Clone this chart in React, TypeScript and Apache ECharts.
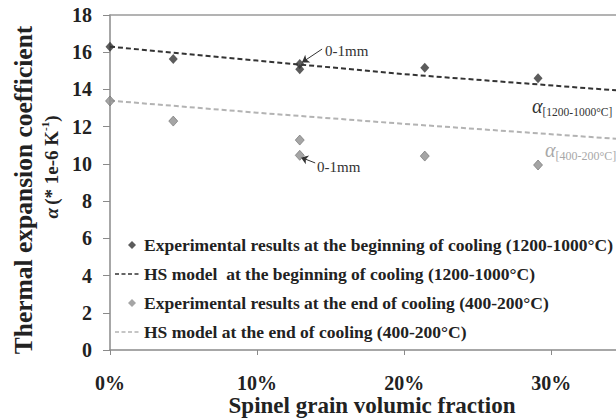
import React, { useEffect, useRef } from "react";
import * as echarts from "echarts";

const expBeginX = [0, 4.3, 12.9, 12.9, 21.4, 29.1];
const expBeginY = [16.3, 15.64, 15.37, 15.08, 15.17, 14.6];
const expEndX = [0, 4.3, 12.9, 12.9, 21.4, 29.1];
const expEndY = [13.38, 12.3, 11.28, 10.46, 10.42, 9.94];
const modelBeginX = [0, 10, 20, 34.4];
const modelBeginY = [16.3, 15.55, 14.82, 13.95];
const modelEndX = [0, 10, 20, 34.4];
const modelEndY = [13.4, 12.75, 12.15, 11.35];
const seriesNames = [
  "Experimental results at the beginning of cooling (1200-1000°C)",
  "HS model  at the beginning of cooling (1200-1000°C)",
  "Experimental results at the end of cooling (400-200°C)",
  "HS model at the end of cooling (400-200°C)",
];
const xTicks = [0, 10, 20, 30];

const SERIF = "'Liberation Serif', 'Times New Roman', serif";
const pair = (xs: number[], ys: number[]) => xs.map((x, i) => [x, ys[i]]);

const DIAMOND_ICON =
  "path://M17,0 L21,4 L17,8 L13,4 Z M0,4 L0.01,4 Z M24,4 L23.99,4 Z";
const DASH_ICON =
  "path://M0,3.3 L4,3.3 L4,4.7 L0,4.7 Z M6.5,3.3 L10.5,3.3 L10.5,4.7 L6.5,4.7 Z M13,3.3 L17,3.3 L17,4.7 L13,4.7 Z M19.5,3.3 L23.5,3.3 L23.5,4.7 L19.5,4.7 Z M0,0 L0.01,0 Z M24,8 L23.99,8 Z";

export default function App() {
  const ref = useRef<HTMLDivElement>(null);
  useEffect(() => {
    document.body.style.margin = "0";
    if (!ref.current) return;
    const chart = echarts.init(ref.current, null, { renderer: "svg" });
    chart.setOption({
      animation: false,
      backgroundColor: "#ffffff",
      grid: { left: 110, right: 0, top: 15, bottom: 69 },
      xAxis: [
        {
          type: "value",
          min: 0,
          max: 34.4,
          interval: 10,
          axisLine: { show: true, lineStyle: { color: "#8a8a8a", width: 1.5 } },
          axisTick: { show: true, length: 5, lineStyle: { color: "#8a8a8a" } },
          splitLine: { show: false },
          axisLabel: {
            margin: 24,
            fontFamily: SERIF,
            fontWeight: "bold",
            fontSize: 20,
            lineHeight: 18,
            color: "#222",
            showMaxLabel: false,
            formatter: (v: number) => (xTicks.includes(v) ? v + "%" : ""),
          },
        },
        {
          type: "value",
          position: "top",
          min: 0,
          max: 34.4,
          axisLine: { show: true, lineStyle: { color: "#9a9a9a", width: 1.5 } },
          axisTick: { show: false },
          axisLabel: { show: false },
          splitLine: { show: false },
        },
      ],
      yAxis: {
        type: "value",
        min: 0,
        max: 18,
        interval: 2,
        axisLine: { show: true, lineStyle: { color: "#8a8a8a", width: 1.5 } },
        axisTick: { show: true, length: 7, lineStyle: { color: "#8a8a8a" } },
        splitLine: { show: false },
        axisLabel: {
          margin: 18,
          fontFamily: SERIF,
          fontWeight: "bold",
          fontSize: 20,
          color: "#222",
        },
      },
      legend: {
        orient: "vertical",
        left: 115,
        top: 236,
        padding: 0,
        itemWidth: 24,
        itemHeight: 8,
        itemGap: 11,
        data: [
          { name: seriesNames[0], icon: DIAMOND_ICON, itemStyle: { borderWidth: 0 } },
          { name: seriesNames[1], icon: DASH_ICON, itemStyle: { borderWidth: 0 } },
          { name: seriesNames[2], icon: DIAMOND_ICON, itemStyle: { borderWidth: 0 } },
          { name: seriesNames[3], icon: DASH_ICON, itemStyle: { borderWidth: 0 } },
        ],
        textStyle: {
          fontFamily: SERIF,
          fontWeight: "bold",
          fontSize: 17.5,
          color: "#222",
          lineHeight: 18,
        },
      },
      series: [
        {
          name: seriesNames[0],
          type: "scatter",
          symbol: "diamond",
          symbolSize: [9, 10],
          itemStyle: { color: "#333333" },
          data: pair(expBeginX, expBeginY),
          z: 5,
        },
        {
          name: seriesNames[1],
          type: "line",
          symbol: "none",
          lineStyle: { color: "#333333", width: 2, type: [5, 3] },
          itemStyle: { color: "#333333" },
          data: pair(modelBeginX, modelBeginY),
          markLine: {
            silent: true,
            symbol: ["none", "arrow"],
            symbolSize: 7,
            label: { show: false },
            lineStyle: { color: "#333", width: 1, type: "solid" },
            data: [
              [{ coord: [14.42, 16.17] }, { coord: [13.05, 15.45] }],
              [{ coord: [13.95, 10.05] }, { coord: [12.98, 10.35] }],
            ],
          },
        },
        {
          name: seriesNames[2],
          type: "scatter",
          symbol: "diamond",
          symbolSize: [9, 10],
          itemStyle: { color: "#8e8e8e", borderColor: "#6e6e6e", borderWidth: 0.8 },
          data: pair(expEndX, expEndY),
          z: 5,
        },
        {
          name: seriesNames[3],
          type: "line",
          symbol: "none",
          lineStyle: { color: "#b3b3b3", width: 2, type: [5, 3] },
          itemStyle: { color: "#b3b3b3" },
          data: pair(modelEndX, modelEndY),
        },
      ],
      graphic: [
        {
          type: "text",
          x: 23,
          y: 190,
          rotation: Math.PI / 2,
          style: {
            text: "Thermal expansion coefficient",
            fontFamily: SERIF,
            fontWeight: "bold",
            fontSize: 25.5,
            fill: "#222",
            align: "center",
            verticalAlign: "middle",
          },
        },
        {
          type: "text",
          x: 51,
          y: 167,
          rotation: Math.PI / 2,
          style: {
            text: "{a|α} {b|(* 1e-6 K}{s|-1}{b|)}",
            align: "center",
            verticalAlign: "middle",
            rich: {
              a: { fontFamily: SERIF, fontStyle: "italic", fontWeight: "bold", fontSize: 19, fill: "#222", lineHeight: 24 },
              b: { fontFamily: SERIF, fontWeight: "bold", fontSize: 19, fill: "#222", lineHeight: 24 },
              s: { fontFamily: SERIF, fontWeight: "bold", fontSize: 11, fill: "#222", verticalAlign: "top", lineHeight: 24 },
            },
          },
        },
        {
          type: "text",
          x: 372,
          y: 405,
          style: {
            text: "Spinel grain volumic fraction",
            fontFamily: SERIF,
            fontWeight: "bold",
            fontSize: 23,
            lineHeight: 20,
            fill: "#222",
            align: "center",
            verticalAlign: "middle",
          },
        },
        {
          type: "text",
          x: 325,
          y: 51,
          style: {
            text: "0-1mm",
            fontFamily: SERIF,
            fontSize: 15,
            fill: "#333",
            align: "left",
            verticalAlign: "middle",
          },
        },
        {
          type: "text",
          x: 317,
          y: 167,
          style: {
            text: "0-1mm",
            fontFamily: SERIF,
            fontSize: 15,
            fill: "#333",
            align: "left",
            verticalAlign: "middle",
          },
        },
        {
          type: "text",
          x: 532,
          y: 106,
          style: {
            text: "{a|α}{s|[1200-1000°C]}",
            align: "left",
            verticalAlign: "middle",
            rich: {
              a: { fontFamily: SERIF, fontStyle: "italic", fontSize: 20, fill: "#333", lineHeight: 24, verticalAlign: "middle" },
              s: { fontFamily: SERIF, fontSize: 11.5, fill: "#333", lineHeight: 24, verticalAlign: "bottom" },
            },
          },
        },
        {
          type: "text",
          x: 545,
          y: 150,
          style: {
            text: "{a|α}{s|[400-200°C]}",
            align: "left",
            verticalAlign: "middle",
            rich: {
              a: { fontFamily: SERIF, fontStyle: "italic", fontSize: 20, fill: "#a8a8a8", lineHeight: 24, verticalAlign: "middle" },
              s: { fontFamily: SERIF, fontSize: 12, fill: "#a8a8a8", lineHeight: 24, verticalAlign: "bottom" },
            },
          },
        },
      ],
    });
    return () => chart.dispose();
  }, []);
  return <div ref={ref} style={{ width: 616, height: 419 }} />;
}
